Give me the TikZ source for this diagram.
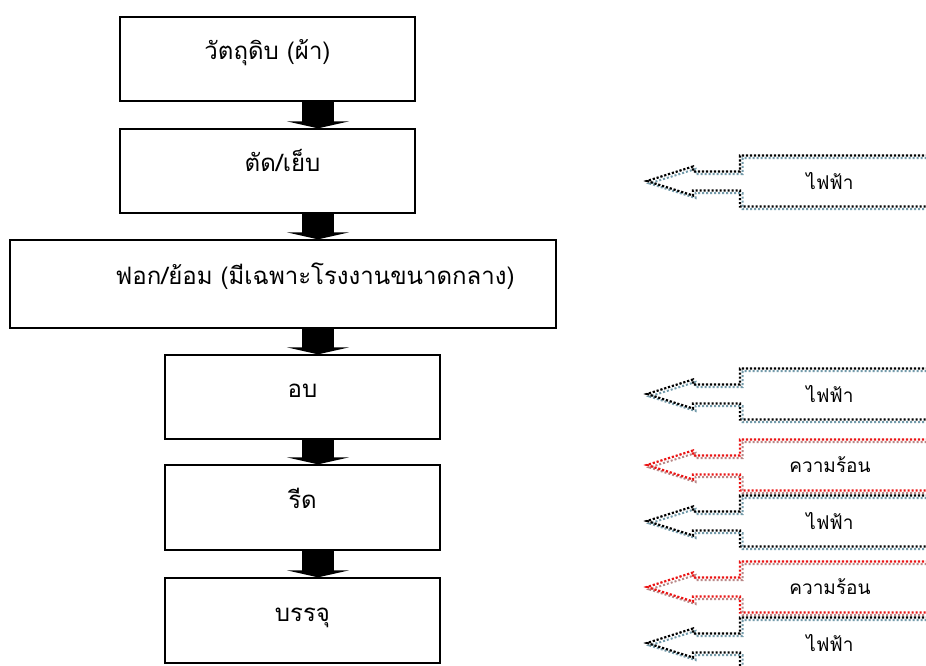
\documentclass[tikz,border=0pt]{standalone}
\usepackage{fontspec}
\newfontfamily\thaifont[Script=Thai]{Loma}
\usetikzlibrary{arrows.meta,positioning}
\definecolor{elecshade}{RGB}{115,155,170}
\definecolor{heatshade}{RGB}{185,135,135}
\definecolor{heatred}{RGB}{235,20,20}

\begin{document}
\begin{tikzpicture}
[x=1pt,y=-1pt,
stage/.style={draw,line width=1.3pt,minimum height=84pt,inner sep=0pt,
  text height=16pt,text depth=15pt,
  font=\thaifont\fontsize{24}{28}\selectfont},
flow/.style={line width=32pt,-{Triangle[length=7pt,width=62pt]}},
energy/.style={inner sep=0pt,font=\thaifont\fontsize{19}{22}\selectfont},
outline/.style={line width=2.2pt,dash pattern=on 2.2pt off 1.8pt},
shade/.style={line width=2pt,dash pattern=on 2pt off 2pt}]
\clip (0,0) rectangle (926,666);
\fill[white] (0,0) rectangle (926,666);

% process steps
\node[stage,minimum width=295pt] (raw) at (267.5,59) {วัตถุดิบ (ผ้า)};
\node[stage,minimum width=295pt] (sew) at (267.5,171) {\hspace*{30pt}ตัด/เย็บ};
\node[stage,minimum width=546pt,minimum height=88pt] (dye) at (283,284)
  {\hspace*{64pt}ฟอก/ย้อม (มีเฉพาะโรงงานขนาดกลาง)};
\node[stage,minimum width=275pt] (bake) at (302.5,397) {อบ};
\node[stage,minimum width=275pt,minimum height=85pt] (iron) at (302.5,507.5) {รีด};
\node[stage,minimum width=275pt,minimum height=85pt] (pack) at (302.5,620.5) {บรรจุ};

% block arrows
\coordinate (spine) at (318,0);
\draw[flow] (raw.south -| spine) -- (sew.north -| spine);
\draw[flow] (sew.south -| spine) -- (dye.north -| spine);
\draw[flow] (dye.south -| spine) -- (bake.north -| spine);
\draw[flow] (bake.south -| spine) -- (iron.north -| spine);
\draw[flow] (iron.south -| spine) -- (pack.north -| spine);

% energy inputs
\node[energy] (elec1) at (830,181) {ไฟฟ้า};
\node[energy] (elec2) at (830,394) {ไฟฟ้า};
\node[energy] (heat1) at (830,465) {ความร้อน};
\node[energy] (elec3) at (830,521) {ไฟฟ้า};
\node[energy] (heat2) at (830,587) {ความร้อน};
\node[energy] (elec4) at (830,643) {ไฟฟ้า};

\foreach \n/\c/\s in {elec1/black/elecshade,elec2/black/elecshade,
  heat1/heatred/heatshade,elec3/black/elecshade,
  heat2/heatred/heatshade,elec4/black/elecshade}
{
  \begin{scope}[shift={(\n.center)}]
    \draw[shade,\s,shift={(2.5,2.5)}] (110,-25.5) -- (-90,-25.5) -- (-90,-9.5)
      -- (-137,-9.5) -- (-137,-14.5) -- (-183,0) -- (-137,14.5)
      -- (-137,9.5) -- (-90,9.5) -- (-90,25.5) -- (110,25.5);
    \draw[outline,\c] (110,-25.5) -- (-90,-25.5) -- (-90,-9.5)
      -- (-137,-9.5) -- (-137,-14.5) -- (-183,0) -- (-137,14.5)
      -- (-137,9.5) -- (-90,9.5) -- (-90,25.5) -- (110,25.5);
  \end{scope}
}
\end{tikzpicture}
\end{document}
